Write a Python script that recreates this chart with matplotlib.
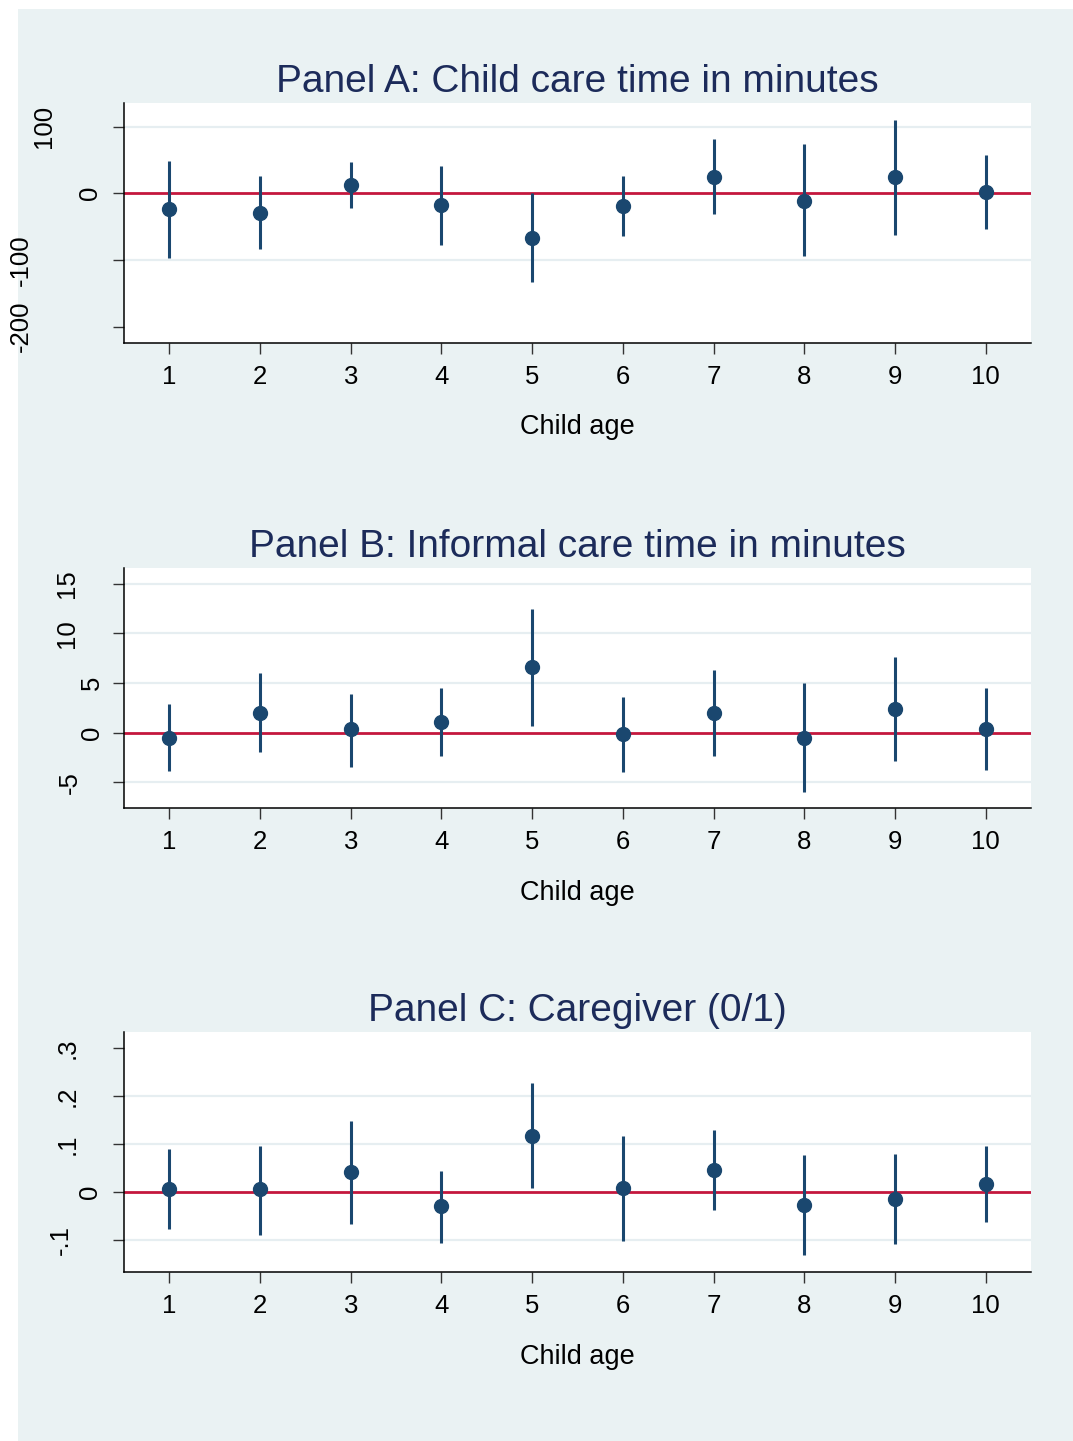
import matplotlib
matplotlib.use("Agg")
import matplotlib.pyplot as plt
from matplotlib.patches import Rectangle
from matplotlib.transforms import ScaledTranslation

plt.rcParams['font.family'] = ['Liberation Sans', 'DejaVu Sans']

# data (point estimate, lower and upper CI bound)
ages = [1, 2, 3, 4, 5, 6, 7, 8, 9, 10]

childcare_est = [-24, -29, 12.5, -18, -67, -19, 25, -11, 25, 2.5]
childcare_lo = [-97.5, -84, -22.5, -78, -133.5, -64, -31, -94.5, -62, -53.5]
childcare_hi = [48.5, 26, 46.5, 40.5, 0, 26, 82, 74, 110.5, 57.5]

informal_est = [-0.5, 1.95, 0.37, 1.1, 6.6, -0.17, 1.95, -0.5, 2.35, 0.37]
informal_lo = [-3.9, -2.0, -3.5, -2.4, 0.7, -4.0, -2.4, -6.0, -2.9, -3.8]
informal_hi = [2.9, 6.0, 3.9, 4.5, 12.5, 3.6, 6.3, 5.0, 7.6, 4.5]

caregiver_est = [0.007, 0.005, 0.041, -0.030, 0.117, 0.008, 0.046, -0.028, -0.014, 0.017]
caregiver_lo = [-0.077, -0.090, -0.067, -0.107, 0.008, -0.103, -0.038, -0.132, -0.110, -0.063]
caregiver_hi = [0.090, 0.097, 0.149, 0.044, 0.227, 0.117, 0.129, 0.077, 0.080, 0.097]

titles = ["Panel A: Child care time in minutes",
          "Panel B: Informal care time in minutes",
          "Panel C: Caregiver (0/1)"]

childcare_ticks = [-200, -100, 0, 100]
childcare_labels = ["-200", "-100", "0", "100"]
informal_ticks = [-5, 0, 5, 10, 15]
informal_labels = ["-5", "0", "5", "10", "15"]
caregiver_ticks = [-0.1, 0, 0.1, 0.2, 0.3]
caregiver_labels = ["-.1", "0", ".1", ".2", ".3"]

# styling
NAVY = "#1A476F"
RED = "#C4173D"
GRID = "#E6EEF1"
BG = "#EAF2F3"
TITLE = "#1C2B5A"

panels = [
    dict(est=childcare_est, lo=childcare_lo, hi=childcare_hi, ticks=childcare_ticks,
         labels=childcare_labels, ylim=(-224.5, 135.5), grid=[-100, 100],
         lab_off=[103, 103, 34, 80], bottom=0.7620),
    dict(est=informal_est, lo=informal_lo, hi=informal_hi, ticks=informal_ticks,
         labels=informal_labels, ylim=(-7.6, 16.6), grid=[-5, 5, 10, 15],
         lab_off=[54, 32, 32, 57, 57], bottom=0.4393),
    dict(est=caregiver_est, lo=caregiver_lo, hi=caregiver_hi, ticks=caregiver_ticks,
         labels=caregiver_labels, ylim=(-0.1676, 0.3347), grid=[-0.1, 0.1, 0.2],
         lab_off=[63, 34, 56, 56, 56], bottom=0.1173),
]

fig = plt.figure(figsize=(10.73, 14.41), dpi=100)
fig.patch.set_facecolor("white")
fig.add_artist(Rectangle((18 / 1073, 0), 1, 1 - 9 / 1441, transform=fig.transFigure,
                         facecolor=BG, edgecolor="none", zorder=0))

for p, title in zip(panels, titles):
    ax = fig.add_axes([0.1156, p["bottom"], 0.8453, 0.1666])
    ax.set_facecolor("white")
    ax.set_xlim(0.5, 10.5)
    ax.set_ylim(*p["ylim"])

    for g in p["grid"]:
        ax.axhline(g, color=GRID, lw=1.6, zorder=1)
    ax.axhline(0, color=RED, lw=2.0, zorder=2)

    yerr = [[e - l for e, l in zip(p["est"], p["lo"])],
            [h - e for e, h in zip(p["est"], p["hi"])]]
    ax.errorbar(ages, p["est"], yerr=yerr, fmt="o", color=NAVY, ecolor=NAVY,
                elinewidth=2.2, capsize=0, markersize=10, zorder=3)

    for side in ["top", "right"]:
        ax.spines[side].set_visible(False)
    for side in ["left", "bottom"]:
        ax.spines[side].set_linewidth(1.1)
        ax.spines[side].set_color("black")

    ax.set_xticks(ages)
    ax.tick_params(axis="x", length=7.6, width=1, color="#333333", pad=8.5,
                   labelsize=18.5)
    ax.set_yticks(p["ticks"])
    ax.set_yticklabels([])
    ax.tick_params(axis="y", length=7.6, width=1, color="#333333")

    # rotated y tick labels, placed like the Stata output
    base = ax.get_yaxis_transform()
    for t, lab, off in zip(p["ticks"], p["labels"], p["lab_off"]):
        tr = base + ScaledTranslation(-off / 100, 0, fig.dpi_scale_trans)
        ax.text(0, t, lab, transform=tr, rotation=90, ha="center", va="center",
                fontsize=18.5, color="black")

    ax.set_title(title, fontsize=28, color=TITLE, pad=8)
    ax.set_xlabel("Child age", fontsize=19.5)
    ax.xaxis.set_label_coords(0.5, -0.298)

fig.savefig("out.png", dpi=100)
